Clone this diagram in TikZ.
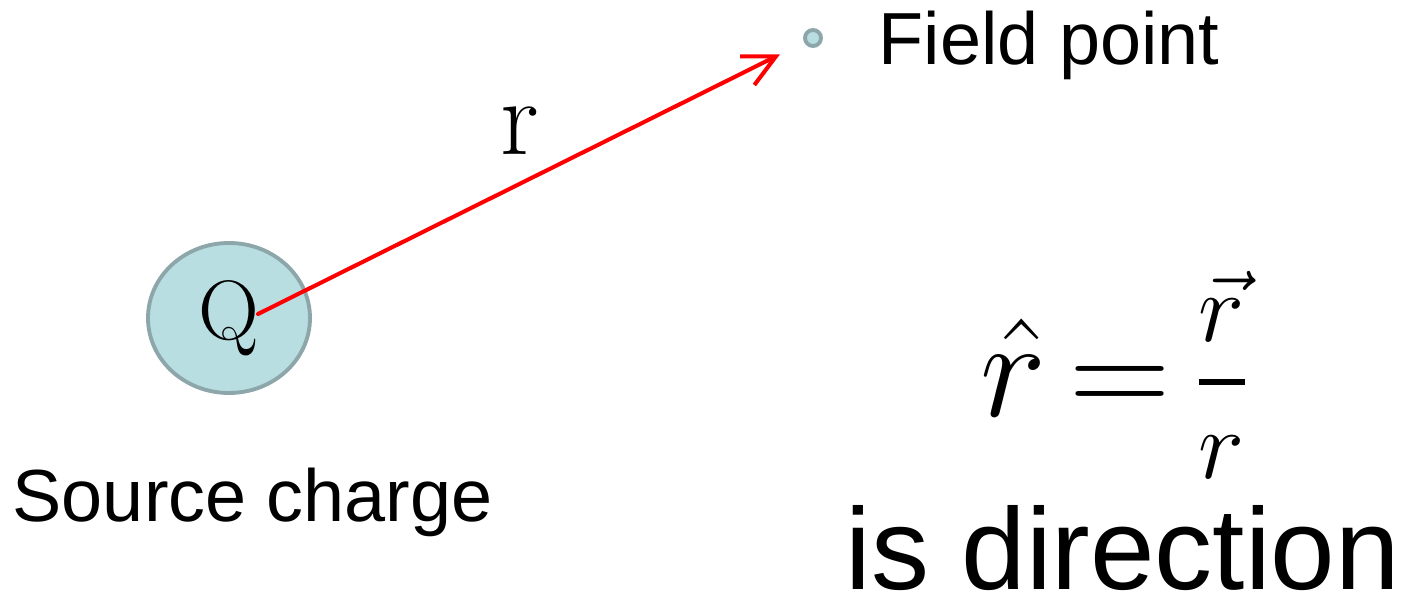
\RequirePackage{fix-cm}
\documentclass[tikz,border=0pt]{standalone}
\usepackage{amsmath,amssymb}
\usepackage{fontspec}
\newfontfamily\arialfont{Liberation Sans}
\usetikzlibrary{arrows.meta,positioning,shapes.geometric}
\definecolor{chargeFill}{RGB}{185,222,226}
\definecolor{chargeEdge}{RGB}{140,166,170}

\begin{document}
\begin{tikzpicture}[
        charge/.style={draw=chargeEdge,fill=chargeFill,ellipse,line width=1.1pt,minimum width=1.62cm,minimum height=1.5cm,inner sep=0pt},
        dot/.style={draw=chargeEdge,fill=chargeFill,circle,line width=1.1pt,minimum size=0.16cm,inner sep=0pt},
        lbl/.style={inner sep=0pt,anchor=base west},
        arrow/.style={-{Straight Barb[length=3.2mm,width=3.2mm]},draw=red,line width=1.15pt,line cap=round}
      ]
        \useasboundingbox (0,0) rectangle (14.08,5.95);
        \node[charge] (src) at (2.29,2.77) {\fontsize{24}{28}\selectfont Q};
        \node[dot] (fp) at (8.13,5.57) {};
        \coordinate (rtail) at ([shift={(0.29,0.04)}]src.center);
        \draw[arrow,shorten >=0.27cm] (rtail) -- (fp);
        \node[lbl] (rlbl) at (5.00,4.40) {\fontsize{31}{36}\selectfont r};
        \node[lbl] (fplbl) at (8.78,5.30) {\arialfont\fontsize{21}{25}\selectfont Field point};
        \node[lbl] (srclbl) at (0.12,0.73) {\arialfont\fontsize{21}{25}\selectfont Source charge};
        \node[lbl] (eq) at (9.80,1.78) {\fontsize{40}{46}\selectfont\thickmuskip=3mu $\hat{r}=\frac{\vec{r}\rule[-9pt]{0pt}{0pt}}{\rule{0pt}{25pt}r}$};
        \node[lbl] (dir) at (8.45,0.05) {\arialfont\fontsize{33}{38}\selectfont is direction};
      \end{tikzpicture}
\end{document}
